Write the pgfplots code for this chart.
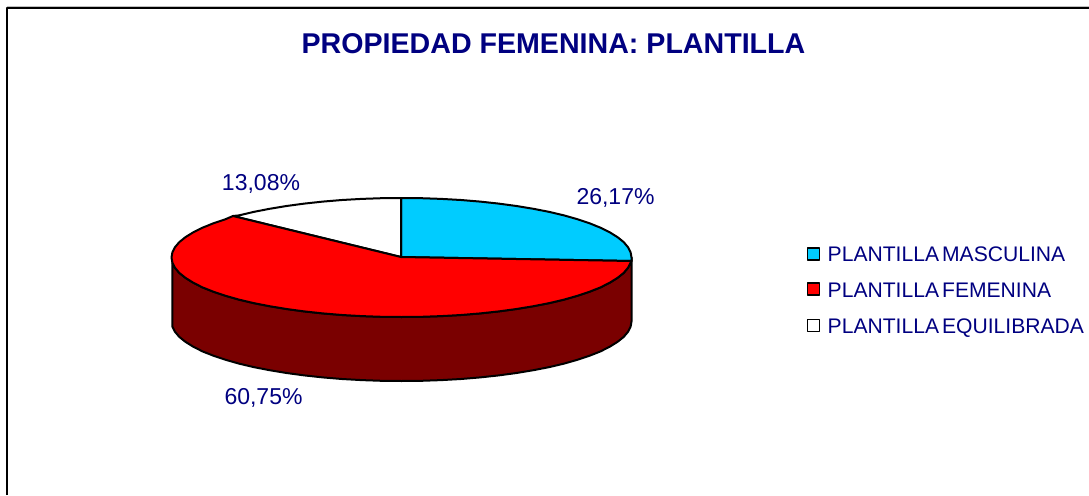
\documentclass[border=0pt]{standalone}
\usepackage{fontspec}
\setmainfont{Liberation Sans}
\usepackage{pgfplots}
\pgfplotsset{compat=1.18}
\definecolor{navyt}{HTML}{000080}
\definecolor{cyanp}{HTML}{00CCFF}
\definecolor{redp}{HTML}{FF0000}
\definecolor{darkp}{HTML}{7A0000}
\begin{document}
\begin{tikzpicture}[x=1pt,y=1pt]
\path[use as bounding box] (0pt,0pt) rectangle (1089pt,495pt);
\begin{axis}[
  at={(0pt,0pt)}, anchor=south west,
  width=1089pt, height=495pt, scale only axis,
  xmin=0, xmax=1089, ymin=0, ymax=495, y dir=reverse,
  hide axis, clip=true,
  every axis plot/.append style={line join=round},
]
% frame
\addplot[color=black!25, line width=0.8pt] coordinates {(7,6)(1089,6)};
\addplot[color=black, line width=2pt] coordinates {(7,495)(7,8)(1089,8)};
% side wall
\addplot[fill=darkp, draw=black, line width=2pt] coordinates {
(631.5,257.5)(630.6,262.7)(628,267.8)(623.7,272.9)(617.6,277.8)(609.9,282.6)(600.7,287.3)(589.9,291.6)(577.7,295.7)(564.1,299.6)(549.3,303.1)(533.4,306.2)(516.5,309)(498.7,311.4)(480.2,313.4)(461,315)(441.4,316.1)(421.5,316.8)(401.5,317)(381.5,316.8)(361.6,316.1)(342,315)(322.8,313.4)(304.3,311.4)(286.5,309)(269.6,306.2)(253.7,303.1)(238.9,299.6)(225.3,295.7)(213.1,291.6)(202.3,287.3)(193.1,282.6)(185.4,277.8)(179.3,272.9)(175,267.8)(172.4,262.7)
(172.4,326.7)(175,331.8)(179.3,336.9)(185.4,341.8)(193.1,346.6)(202.3,351.3)(213.1,355.6)(225.3,359.7)(238.9,363.6)(253.7,367.1)(269.6,370.2)(286.5,373)(304.3,375.4)(322.8,377.4)(342,379)(361.6,380.1)(381.5,380.8)(401.5,381)(421.5,380.8)(441.4,380.1)(461,379)(480.2,377.4)(498.7,375.4)(516.5,373)(533.4,370.2)(549.3,367.1)(564.1,363.6)(577.7,359.7)(589.9,355.6)(600.7,351.3)(609.9,346.6)(617.6,341.8)(623.7,336.9)(628,331.8)(630.6,326.7)(631.5,321.5)
} -- cycle;
% masculina 26,17
\addplot[fill=cyanp, draw=black, line width=2pt] coordinates {
(401,257)(401,198)(421.5,198.2)(441.4,198.9)(461,200)(480.2,201.6)(498.7,203.6)(516.5,206)(533.4,208.8)(549.3,211.9)(564.1,215.4)(577.7,219.3)(589.9,223.4)(600.7,227.8)(609.9,232.4)(617.6,237.2)(623.7,242.1)(628,247.2)(630.6,252.3)(631.5,257.5)(631.5,261)
} -- cycle;
% equilibrada 13,08
\addplot[fill=white, draw=black, line width=2pt] coordinates {
(401,257)(233,216)(238.9,215.4)(253.7,211.9)(269.6,208.8)(286.5,206)(304.3,203.6)(322.8,201.6)(342,200)(361.6,198.9)(381.5,198.2)(401,198)
} -- cycle;
% femenina 60,75
\addplot[fill=redp, draw=black, line width=2pt] coordinates {
(401,257)(631.5,261)(628,267.8)(623.7,272.9)(617.6,277.8)(609.9,282.6)(600.7,287.3)(589.9,291.6)(577.7,295.7)(564.1,299.6)(549.3,303.1)(533.4,306.2)(516.5,309)(498.7,311.4)(480.2,313.4)(461,315)(441.4,316.1)(421.5,316.8)(401.5,317)(381.5,316.8)(361.6,316.1)(342,315)(322.8,313.4)(304.3,311.4)(286.5,309)(269.6,306.2)(253.7,303.1)(238.9,299.6)(225.3,295.7)(213.1,291.6)(202.3,287.3)(193.1,282.6)(185.4,277.8)(179.3,272.9)(175,267.8)(172.4,262.7)(171.5,257.5)(172.4,252.3)(175,247.2)(179.3,242.1)(185.4,237.2)(193.1,232.4)(202.3,227.8)(213.1,223.4)(225.3,219.3)(233,216)
} -- cycle;
% legend swatches
\addplot[only marks, mark=square*, mark size=6pt, mark options={fill=cyanp, draw=black, line width=1.5pt}] coordinates {(813.5,254)};
\addplot[only marks, mark=square*, mark size=6pt, mark options={fill=redp, draw=black, line width=1.5pt}] coordinates {(813.5,289)};
\addplot[only marks, mark=square*, mark size=6pt, mark options={fill=white, draw=black, line width=1.5pt}] coordinates {(813.5,325.5)};
\tikzset{lab/.style={inner sep=0pt, anchor=base, text=navyt, font=\fontsize{23}{26}\selectfont}, leg/.style={inner sep=0pt, anchor=base west, text=navyt, font=\fontsize{21.1}{24}\selectfont}}
\node[inner sep=0pt, anchor=base, text=navyt, font=\fontsize{28.6}{32}\bfseries\selectfont] at (553.5,53.5) {PROPIEDAD FEMENINA: PLANTILLA};
\node[lab] at (261,190) {13,08\%};
\node[lab] at (615.5,204) {26,17\%};
\node[lab] at (263.5,404) {60,75\%};
\node[leg] at (827.5,261.5) {PLANTILLA\hspace{3pt}MASCULINA};
\node[leg] at (827.5,297) {PLANTILLA\hspace{3pt}FEMENINA};
\node[leg] at (827.5,333) {PLANTILLA\hspace{3pt}EQUILIBRADA};
\end{axis}
\end{tikzpicture}
\end{document}
